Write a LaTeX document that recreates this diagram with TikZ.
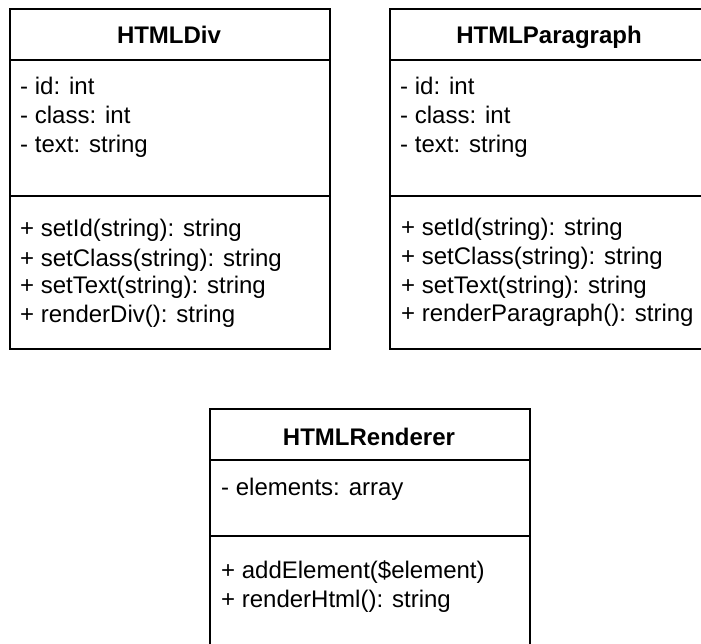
\documentclass[tikz,border=0pt]{standalone}
\usepackage{fontspec}
\setmainfont{Liberation Sans}
\begin{document}
\begin{tikzpicture}[x=1pt,y=-1pt,
  classbox/.style={draw, line width=1.6pt, anchor=north west, inner sep=0pt,
                   minimum width=320pt},
  classname/.style={font=\fontsize{24}{28.8}\selectfont\bfseries, anchor=base, inner sep=0pt},
  member/.style={font=\fontsize{24}{28.8}\selectfont, anchor=base west, inner sep=0pt},
  divider/.style={line width=1.6pt}]
\useasboundingbox (0,0) rectangle (701,644);

% ---- HTMLDiv ----
\node[classbox, minimum height=340pt] (div) at (9,8) {};
\draw[divider] ([yshift=-52pt]div.north west) -- ([yshift=-52pt]div.north east);
\draw[divider] ([yshift=-188pt]div.north west) -- ([yshift=-188pt]div.north east);
\node[classname] (divname) at (169,44) {HTMLDiv};
\node[member] (diva1) at (20,95)  {- id: int};
\node[member] (diva2) at (20,124) {- class: int};
\node[member] (diva3) at (20,153) {- text: string};
\node[member] (divm1) at (20,237) {+ setId(string): string};
\node[member] (divm2) at (20,266) {+ setClass(string): string};
\node[member] (divm3) at (20,294) {+ setText(string): string};
\node[member] (divm4) at (20,322) {+ renderDiv(): string};

% ---- HTMLParagraph ----
\node[classbox, minimum height=340pt] (par) at (389,8) {};
\draw[divider] ([yshift=-52pt]par.north west) -- ([yshift=-52pt]par.north east);
\draw[divider] ([yshift=-188pt]par.north west) -- ([yshift=-188pt]par.north east);
\node[classname] (parname) at (549,44) {HTMLParagraph};
\node[member] (para1) at (400,95)  {- id: int};
\node[member] (para2) at (400,124) {- class: int};
\node[member] (para3) at (400,153) {- text: string};
\node[member] (parm1) at (401,236) {+ setId(string): string};
\node[member] (parm2) at (401,265) {+ setClass(string): string};
\node[member] (parm3) at (401,293) {+ setText(string): string};
\node[member] (parm4) at (401,321) {+ renderParagraph(): string};

% ---- HTMLRenderer ----
\node[classbox, minimum height=260pt] (ren) at (209,408) {};
\draw[divider] ([yshift=-52pt]ren.north west) -- ([yshift=-52pt]ren.north east);
\draw[divider] ([yshift=-128pt]ren.north west) -- ([yshift=-128pt]ren.north east);
\node[classname] (renname) at (369,445) {HTMLRenderer};
\node[member] (rena1) at (221,495) {- elements: array};
\node[member] (renm1) at (221,578) {+ addElement(\$element)};
\node[member] (renm2) at (221,607) {+ renderHtml(): string};
\end{tikzpicture}
\end{document}
